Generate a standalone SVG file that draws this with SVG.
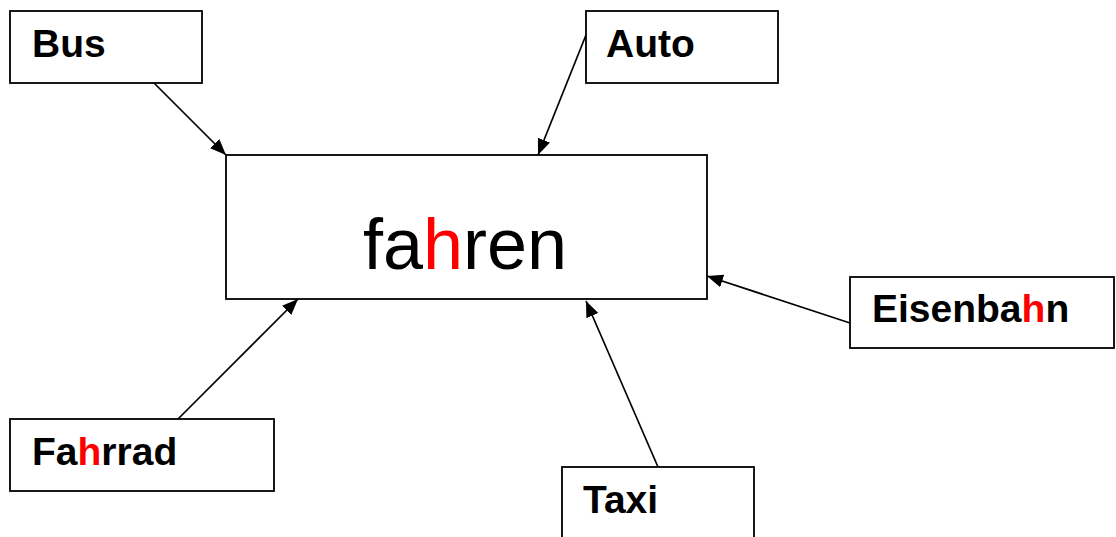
<svg xmlns="http://www.w3.org/2000/svg" width="1116" height="537" viewBox="0 0 1116 537">
<style>
.box{fill:#fff;stroke:#000;stroke-width:1.8}
.lbl{font-family:"Liberation Sans",Arial,sans-serif;font-weight:bold;font-size:39px;fill:#000}
.main{font-family:"Liberation Sans",Arial,sans-serif;font-size:72px;fill:#000}
.red{fill:#ff0000}
.conn{stroke:#000;stroke-width:1.7;fill:none;marker-end:url(#arr)}
</style>
<defs>
<marker id="arr" markerUnits="userSpaceOnUse" markerWidth="18" markerHeight="14" refX="16" refY="7" orient="auto">
<path d="M0,0.5 L16,7 L0,13.5 Z" fill="#000"/>
</marker>
</defs>
<rect width="1116" height="537" fill="#fff"/>
<g id="connectors">
<line class="conn" x1="154" y1="83" x2="226" y2="155"/>
<line class="conn" x1="586" y1="35" x2="538" y2="155"/>
<line class="conn" x1="850" y1="323" x2="707" y2="276"/>
<line class="conn" x1="658" y1="467" x2="586" y2="301"/>
<line class="conn" x1="178" y1="419" x2="298" y2="299"/>
</g>
<g id="fahren">
<rect class="box" x="226" y="155" width="481" height="144"/>
<text class="main" x="363" y="269">fa<tspan class="red">h</tspan>ren</text>
</g>
<g id="bus">
<rect class="box" x="10" y="11" width="192" height="72"/>
<text class="lbl" x="32" y="57">Bus</text>
</g>
<g id="auto">
<rect class="box" x="586" y="11" width="192" height="72"/>
<text class="lbl" x="606" y="57">Auto</text>
</g>
<g id="eisenbahn">
<rect class="box" x="850" y="277" width="264" height="71"/>
<text class="lbl" x="872" y="322">Eisenba<tspan class="red">h</tspan>n</text>
</g>
<g id="fahrrad">
<rect class="box" x="10" y="419" width="264" height="72"/>
<text class="lbl" x="32" y="465">Fa<tspan class="red">h</tspan>rrad</text>
</g>
<g id="taxi">
<rect class="box" x="562" y="467" width="192" height="80"/>
<text class="lbl" x="583" y="513">Taxi</text>
</g>
</svg>
